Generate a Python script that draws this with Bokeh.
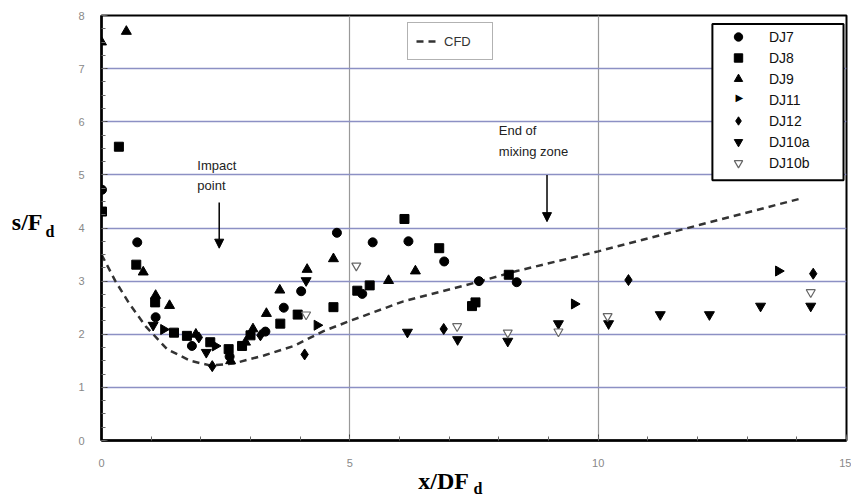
import math
from bokeh.plotting import figure
from bokeh.models import (Range1d, Legend, LegendItem, Label, Arrow, NormalHead, BoxAnnotation,
                          SingleIntervalTicker, FixedTicker, LinearAxis)
from bokeh.embed import file_html
from bokeh.resources import INLINE

# ---------------- data ----------------
dj7_x = [0.01, 0.72, 1.09, 1.82, 2.58, 3.30, 3.67, 4.02, 4.74, 5.25, 5.46, 6.18, 6.90, 7.60, 8.36]
dj7_y = [4.72, 3.73, 2.32, 1.78, 1.58, 2.05, 2.50, 2.81, 3.91, 2.76, 3.73, 3.75, 3.37, 3.00, 2.98]

dj8_x = [0.01, 0.35, 0.70, 1.08, 1.46, 1.72, 2.19, 2.56, 2.83, 3.00, 3.60, 3.95, 4.67, 5.15, 5.40, 6.10, 6.80, 7.46, 7.53, 8.20]
dj8_y = [4.31, 5.53, 3.31, 2.60, 2.03, 1.97, 1.85, 1.72, 1.78, 1.98, 2.20, 2.37, 2.51, 2.82, 2.92, 4.17, 3.62, 2.53, 2.60, 3.12]

dj9_x = [0.00, 0.50, 0.84, 1.09, 1.37, 1.90, 2.60, 2.90, 3.05, 3.32, 3.59, 4.14, 4.67, 5.78, 6.32]
dj9_y = [7.50, 7.70, 3.17, 2.73, 2.54, 2.00, 1.50, 1.85, 2.10, 2.39, 2.83, 3.22, 3.42, 3.01, 3.19]

dj11_x = [1.25, 2.29, 4.34, 9.52, 13.63]
dj11_y = [2.09, 1.78, 2.17, 2.57, 3.19]

dj12_x = [1.96, 2.23, 3.20, 4.09, 6.89, 10.61, 14.33]
dj12_y = [1.94, 1.40, 1.98, 1.62, 2.10, 3.02, 3.14]

dj10a_x = [1.04, 2.11, 4.12, 6.16, 7.17, 8.18, 9.20, 10.21, 11.25, 12.24, 13.27, 14.28]
dj10a_y = [2.17, 1.66, 3.01, 2.04, 1.90, 1.87, 2.20, 2.20, 2.37, 2.37, 2.53, 2.53]

dj10b_x = [4.12, 5.13, 7.16, 8.18, 9.20, 10.19, 14.28]
dj10b_y = [2.37, 3.29, 2.15, 2.03, 2.05, 2.34, 2.79]

cfd_x = [0.0, 0.28, 0.55, 0.89, 1.32, 1.79, 2.20, 2.66, 3.27, 3.87, 4.47, 5.00, 6.08, 7.56, 8.36, 10.00, 12.05, 14.10]
cfd_y = [3.50, 3.00, 2.59, 2.15, 1.72, 1.50, 1.41, 1.45, 1.60, 1.78, 2.06, 2.25, 2.62, 2.98, 3.19, 3.56, 4.06, 4.56]

series_labels = ["DJ7", "DJ8", "DJ9", "DJ11", "DJ12", "DJ10a", "DJ10b"]

# ---------------- figure ----------------
p = figure(width=851, height=499, output_backend="svg", toolbar_location=None,
           x_range=Range1d(0, 15), y_range=Range1d(0, 8),
           min_border_left=101, min_border_right=5, min_border_top=15, min_border_bottom=57)
p.background_fill_color = "white"
p.border_fill_color = "white"
p.outline_line_color = "black"
p.outline_line_width = 2

p.xaxis.ticker = SingleIntervalTicker(interval=5, num_minor_ticks=5)
p.yaxis.ticker = SingleIntervalTicker(interval=1, num_minor_ticks=4)
for ax in (p.xaxis, p.yaxis):
    ax.axis_line_color = "black"
    ax.axis_line_width = 2.5
    ax.major_tick_in = 6
    ax.major_tick_out = 0
    ax.minor_tick_in = 4
    ax.minor_tick_out = 0
    ax.major_tick_line_color = "#444"
    ax.minor_tick_line_color = "#666"
    ax.major_label_text_font = "Liberation Sans"
    ax.major_label_text_font_size = "11px"
    ax.major_label_text_color = "#888888"
p.xaxis.major_label_standoff = 18
p.yaxis.major_label_standoff = 17

p.ygrid.grid_line_color = "#8c90c4"
p.ygrid.grid_line_width = 1.3
p.xgrid.grid_line_color = "#999999"
p.xgrid.grid_line_width = 1.2


def title_axis(tick, text, size, standoff):
    a = LinearAxis(ticker=FixedTicker(ticks=[tick]), major_label_overrides={tick: text})
    a.axis_line_color = None
    a.major_tick_line_color = None
    a.minor_tick_line_color = None
    a.major_tick_in = 0
    a.major_tick_out = 0
    a.minor_tick_in = 0
    a.minor_tick_out = 0
    a.major_label_standoff = standoff
    a.major_label_text_font = "Liberation Serif"
    a.major_label_text_font_style = "bold"
    a.major_label_text_font_size = size
    a.major_label_text_color = "black"
    return a


# axis titles (s/F_d on the left, x/DF_d below)
p.add_layout(title_axis(3.93, "d", "16px", 21), "left")
p.add_layout(title_axis(4.11, "s/F", "24px", 0), "left")
p.add_layout(title_axis(6.89, "x/DF", "24px", -2), "below")
p.add_layout(title_axis(7.58, "d", "16px", -17), "below")

# CFD line
r_cfd = p.line(cfd_x, cfd_y, line_dash="7 5", line_width=2.5, line_color="#333333")

# data series
r7 = p.scatter(dj7_x, dj7_y, marker="circle", size=9, fill_color="black", line_color="black")
r8 = p.scatter(dj8_x, dj8_y, marker="square", size=9, fill_color="black", line_color="black")
r9 = p.scatter(dj9_x, dj9_y, marker="triangle", size=10, fill_color="black", line_color="black")
r11 = p.scatter(dj11_x, dj11_y, marker="triangle", size=10, angle=-math.pi / 2,
                fill_color="black", line_color="black")
r11_key = p.scatter(dj11_x, dj11_y, marker="triangle", size=10, fill_alpha=0, line_alpha=0)
r12 = p.scatter(dj12_x, dj12_y, marker="diamond", size=11, fill_color="black", line_color="black")
r10a = p.scatter(dj10a_x, dj10a_y, marker="inverted_triangle", size=10, fill_color="black", line_color="black")
r10b = p.scatter(dj10b_x, dj10b_y, marker="inverted_triangle", size=9, fill_color="white",
                 line_color="#666666", line_width=1.2)

# series legend: framed box, transparent legend on top
p.add_layout(BoxAnnotation(left=12.30, right=14.94, top=7.84, bottom=4.90,
                           fill_color="white", fill_alpha=1.0, line_color="black", line_width=2,
                           line_alpha=1.0))
renderers = [r7, r8, r9, r11_key, r12, r10a, r10b]
legend = Legend(items=[LegendItem(label=l, renderers=[r]) for l, r in zip(series_labels, renderers)],
                location=(613, 267), margin=0, padding=3, spacing=0,
                label_height=21, glyph_height=21, glyph_width=48, label_standoff=7,
                label_text_font="Liberation Sans", label_text_font_size="14px", label_text_color="#111111",
                border_line_color=None, background_fill_alpha=0.0)
p.add_layout(legend)

# right-pointing key symbol for DJ11 (legend glyphs cannot be rotated)
p.add_layout(Label(x=12.845, y=6.45, text="\u25B6",
                   text_font="DejaVu Sans", text_font_size="10px", text_color="black",
                   text_align="center", text_baseline="middle"))

# CFD legend
legend2 = Legend(items=[LegendItem(label="CFD", renderers=[r_cfd])],
                 location=(306, 380), margin=0, padding=8, spacing=0,
                 label_height=20, glyph_height=20, glyph_width=20, label_standoff=8, label_width=40,
                 label_text_font="Liberation Sans", label_text_font_size="13px", label_text_color="#333333",
                 border_line_color="#666666", border_line_width=1, background_fill_color="white",
                 background_fill_alpha=1.0)
p.add_layout(legend2)

# annotations
p.add_layout(Label(x=1.93, y=5.32, text="Impact\npoint", text_font="Liberation Sans",
                   text_font_size="13px", text_color="#222222", text_baseline="top",
                   text_line_height=1.35))
p.add_layout(Label(x=8.0, y=5.97, text="End of\nmixing zone", text_font="Liberation Sans",
                   text_font_size="13px", text_color="#222222", text_baseline="top",
                   text_line_height=1.35))
p.add_layout(Arrow(end=NormalHead(size=9, fill_color="black", line_color="black"),
                   x_start=2.37, y_start=4.48, x_end=2.37, y_end=3.62,
                   line_color="black", line_width=1.5))
p.add_layout(Arrow(end=NormalHead(size=9, fill_color="black", line_color="black"),
                   x_start=8.97, y_start=5.0, x_end=8.97, y_end=4.12,
                   line_color="black", line_width=1.5))

open("out.html", "w").write(file_html(p, INLINE))
